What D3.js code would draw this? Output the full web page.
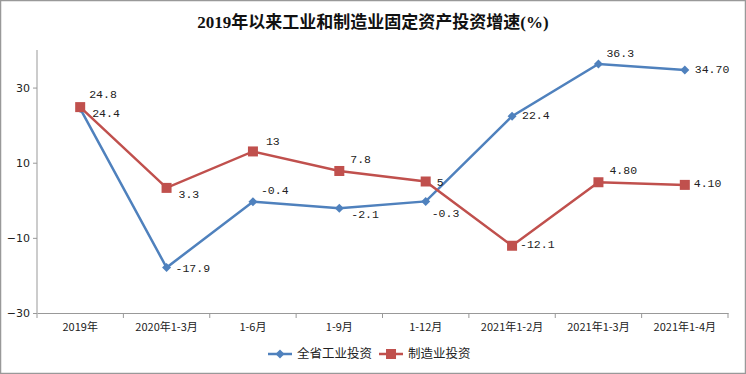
<!DOCTYPE html>
<html>
<head>
<meta charset="utf-8">
<script src="https://cdn.jsdelivr.net/npm/d3@7"></script>
<style>
  body { margin: 0; background: #fff; }
  svg { display: block; }
</style>
</head>
<body>
<svg id="chart" width="746" height="374"></svg>
<script>
// categories + series
const categories = ["2019年", "2020年1-3月", "1-6月", "1-9月", "1-12月", "2021年1-2月", "2021年1-3月", "2021年1-4月"];
const industryValues = [24.4, -17.9, -0.4, -2.1, -0.3, 22.4, 36.3, 34.7];
const industryLabels = ["24.4", "-17.9", "-0.4", "-2.1", "-0.3", "22.4", "36.3", "34.70"];
const manufValues = [24.8, 3.3, 13, 7.8, 5, -12.1, 4.8, 4.1];
const manufLabels = ["24.8", "3.3", "13", "7.8", "5", "-12.1", "4.80", "4.10"];
const yTicks = [-30, -10, 10, 30];
const seriesNames = ["全省工业投资", "制造业投资"];

// label nudges (dx, dy) relative to each point
const industryOffsets = [[12, 4], [9, 0], [8, -12], [12, 6], [6, 12], [10, -1], [8, -11], [10, -1]];
const manufOffsets = [[9, -13], [12, 6], [13, -10], [11, -12], [11, 0], [8, -2], [11, -12], [9, -2]];

const blue = "#4F81BD", red = "#C0504D";
const margin = { left: 37, right: 18, top: 50, bottom: 61 };
const W = 746, H = 374;

const svg = d3.select("#chart");

// outer frame
svg.append("rect")
  .attr("x", 0.5).attr("y", 0.5)
  .attr("width", W - 1).attr("height", H - 1)
  .attr("fill", "none").attr("stroke", "#999").attr("stroke-width", 1.5);

svg.append("text")
  .attr("x", 373).attr("y", 28)
  .attr("text-anchor", "middle")
  .attr("font-family", "'Liberation Serif', 'Noto Sans CJK SC', serif")
  .attr("font-weight", "bold")
  .attr("font-size", 17)
  .attr("fill", "#111")
  .text("2019年以来工业和制造业固定资产投资增速(%)");

const x = d3.scaleBand()
  .domain(categories)
  .range([margin.left, W - margin.right]);

const y = d3.scaleLinear()
  .domain([-30, 40])
  .range([H - margin.bottom, margin.top]);

const cx = d => x(d) + x.bandwidth() / 2;

// x axis
const xAxis = svg.append("g")
  .attr("transform", `translate(0,${H - margin.bottom})`)
  .call(d3.axisBottom(x).tickSize(0).tickPadding(10));
xAxis.select(".domain").attr("stroke", "#999");
xAxis.selectAll("text")
  .attr("font-family", "'Noto Sans CJK SC', sans-serif")
  .attr("font-size", 11)
  .attr("fill", "#222");
// tick marks at band boundaries
const bounds = categories.map(c => x(c)).concat([x.range()[1]]);
xAxis.selectAll(".bound")
  .data(bounds)
  .join("line")
  .attr("class", "bound")
  .attr("x1", d => d).attr("x2", d => d)
  .attr("y1", 0).attr("y2", 5)
  .attr("stroke", "#999");

// y axis
const yAxis = svg.append("g")
  .attr("transform", `translate(${margin.left},0)`)
  .call(d3.axisLeft(y).tickValues(yTicks).tickSize(4).tickPadding(3));
yAxis.select(".domain").attr("stroke", "#999").attr("d", `M0,${y(-30)}V${y(40)}`);
yAxis.selectAll(".tick line").attr("stroke", "#999");
yAxis.selectAll("text")
  .attr("font-family", "'DejaVu Sans', sans-serif")
  .attr("font-size", 11)
  .attr("fill", "#222")
  .text(d => d < 0 ? "−" + Math.abs(d) : d);

const line = d3.line().x(d => cx(d.c)).y(d => y(d.v));

const series = [
  { name: seriesNames[0], color: blue, values: industryValues, labels: industryLabels, offsets: industryOffsets, marker: "diamond" },
  { name: seriesNames[1], color: red, values: manufValues, labels: manufLabels, offsets: manufOffsets, marker: "square" }
];

function drawMarker(g, type, color) {
  if (type === "diamond") {
    g.append("path").attr("d", "M0,-4.5L4.5,0L0,4.5L-4.5,0Z").attr("fill", color);
  } else {
    g.append("rect").attr("x", -5).attr("y", -5).attr("width", 10).attr("height", 10).attr("fill", color);
  }
}

for (const s of series) {
  const pts = s.values.map((v, i) => ({ c: categories[i], v }));
  svg.append("path")
    .datum(pts)
    .attr("d", line)
    .attr("fill", "none")
    .attr("stroke", s.color)
    .attr("stroke-width", 2.5);
}

for (const s of series) {
  const pts = s.values.map((v, i) => ({ c: categories[i], v, i }));
  const g = svg.append("g");
  g.selectAll("g")
    .data(pts)
    .join("g")
    .attr("transform", d => `translate(${cx(d.c)},${y(d.v)})`)
    .each(function () { drawMarker(d3.select(this), s.marker, s.color); });

  svg.append("g").selectAll("text")
    .data(pts)
    .join("text")
    .attr("x", d => cx(d.c) + s.offsets[d.i][0])
    .attr("y", d => y(d.v) + s.offsets[d.i][1])
    .attr("dy", "0.35em")
    .attr("font-family", "'Liberation Mono', 'DejaVu Sans Mono', monospace")
    .attr("font-size", 11.5)
    .attr("fill", "#222")
    .text(d => s.labels[d.i]);
}

// legend
const legend = svg.append("g").attr("transform", "translate(268,354)");
let lx = 0;
series.forEach((s, i) => {
  const g = legend.append("g").attr("transform", `translate(${lx},0)`);
  g.append("line").attr("x1", 0).attr("x2", 24).attr("y1", 0).attr("y2", 0)
    .attr("stroke", s.color).attr("stroke-width", 2.5);
  const m = g.append("g").attr("transform", "translate(12,0)");
  drawMarker(m, s.marker, s.color);
  const t = g.append("text")
    .attr("x", 29).attr("dy", "0.35em")
    .attr("font-family", "'Noto Sans CJK SC', sans-serif")
    .attr("font-size", 12.5)
    .attr("fill", "#222")
    .text(s.name);
  lx += 29 + t.node().getComputedTextLength() + 7;
});
</script>
</body>
</html>
